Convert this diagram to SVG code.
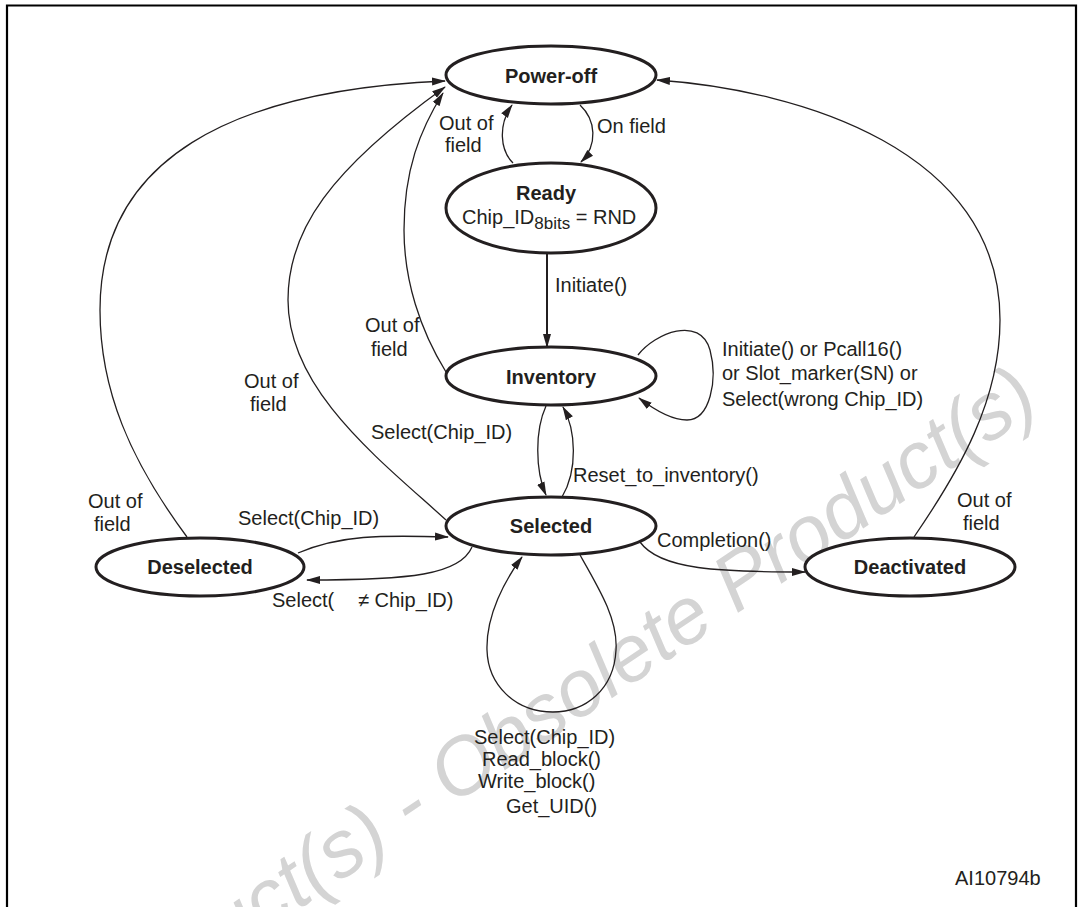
<svg xmlns="http://www.w3.org/2000/svg" width="1082" height="907" viewBox="0 0 1082 907">
<style>
.bg{fill:#ffffff}
.frame{fill:none;stroke:#000;stroke-width:2.2}
.node{fill:#ffffff;stroke:#231f20;stroke-width:3}
.edge{fill:none;stroke:#231f20;stroke-width:1.3}
.thick{stroke-width:2}
.t{font-family:"Liberation Sans",Arial,sans-serif;font-size:20px;fill:#231f20}
.b{font-family:"Liberation Sans",Arial,sans-serif;font-size:20px;font-weight:bold;fill:#231f20;text-anchor:middle}
.wm{font-family:"Liberation Sans",Arial,sans-serif;font-size:80px;font-style:italic;fill:#d4d4d4;text-anchor:end}
</style>
<defs>
<marker id="arr" markerWidth="14" markerHeight="10" refX="13" refY="5" orient="auto" markerUnits="userSpaceOnUse">
<path d="M0,1 L14,5 L0,9 Z" fill="#231f20"/>
</marker>
</defs>
<rect class="bg" x="0" y="0" width="1082" height="907"/>
<g id="watermark">
<text class="wm" transform="translate(1042,408) rotate(-34)">Product(s) - Obsolete Product(s)</text>
</g>
<path class="frame" d="M7,907 L7,5.5 L1076,5.5 L1076,907"/>
<g id="connectors">
<path class="edge" marker-end="url(#arr)" d="M187,537 C130,460 100,390 100,310 C100,160 230,90 445,81"/>
<path class="edge" marker-end="url(#arr)" d="M446,520 C380,460 288,390 288,300 C288,230 330,170 445,87"/>
<path class="edge" marker-end="url(#arr)" d="M446,372 C420,330 404,280 404,230 C404,170 420,130 443,93"/>
<path class="edge" marker-end="url(#arr)" d="M580,105 C596,120 598,145 581,162"/>
<path class="edge" marker-end="url(#arr)" d="M513,163 C500,150 498,125 512,105"/>
<path class="edge thick" marker-end="url(#arr)" d="M547,253 L547,347"/>
<path class="edge" marker-end="url(#arr)" d="M638,355 C655,333 700,315 710,350 C718,380 710,420 687,420 C670,420 652,408 639,398"/>
<path class="edge" marker-end="url(#arr)" d="M546,406 C535,430 535,470 546,495"/>
<path class="edge" marker-end="url(#arr)" d="M562,497 C578,470 576,430 563,407"/>
<path class="edge" marker-end="url(#arr)" d="M298,553 C340,535 380,535 448,537"/>
<path class="edge" marker-end="url(#arr)" d="M472,547 C460,575 410,580 307,580"/>
<path class="edge" marker-end="url(#arr)" d="M640,542 C660,570 720,572 805,572"/>
<path class="edge" marker-end="url(#arr)" d="M914,537 C960,470 1000,400 1000,320 C1000,150 800,90 657,80"/>
<path class="edge" marker-end="url(#arr)" d="M580,555 C600,590 618,620 616,650 C614,690 585,712 553,712 C515,712 488,685 487,650 C486,615 505,580 522,557"/>
</g>
<g id="node-poweroff">
<ellipse class="node" cx="551" cy="75" rx="105" ry="29"/>
<text class="b" x="551" y="83">Power-off</text>
</g>
<g id="node-ready">
<ellipse class="node" cx="551" cy="208" rx="105" ry="45"/>
<text class="b" x="546" y="200">Ready</text>
<text class="t" x="462" y="224">Chip_ID<tspan font-size="17" dy="5">8bits</tspan><tspan dy="-5"> = RND</tspan></text>
</g>
<g id="node-inventory">
<ellipse class="node" cx="551" cy="376" rx="105" ry="29"/>
<text class="b" x="551" y="384">Inventory</text>
</g>
<g id="node-selected">
<ellipse class="node" cx="551" cy="526" rx="105" ry="29"/>
<text class="b" x="551" y="533">Selected</text>
</g>
<g id="node-deselected">
<ellipse class="node" cx="200" cy="567" rx="104" ry="29"/>
<text class="b" x="200" y="574">Deselected</text>
</g>
<g id="node-deactivated">
<ellipse class="node" cx="910" cy="567" rx="105" ry="29"/>
<text class="b" x="910" y="574">Deactivated</text>
</g>
<g id="labels">
<text class="t" x="439" y="130">Out of</text>
<text class="t" x="445" y="152">field</text>
<text class="t" x="597" y="133">On field</text>
<text class="t" x="555" y="292">Initiate()</text>
<text class="t" x="365" y="332">Out of</text>
<text class="t" x="371" y="356">field</text>
<text class="t" x="244" y="388">Out of</text>
<text class="t" x="250" y="411">field</text>
<text class="t" x="88" y="508">Out of</text>
<text class="t" x="94" y="531">field</text>
<text class="t" x="722" y="356">Initiate() or Pcall16()</text>
<text class="t" x="722" y="380">or Slot_marker(SN) or</text>
<text class="t" x="722" y="406">Select(wrong Chip_ID)</text>
<text class="t" x="371" y="439">Select(Chip_ID)</text>
<text class="t" x="573" y="482">Reset_to_inventory()</text>
<text class="t" x="238" y="525">Select(Chip_ID)</text>
<text class="t" x="272" y="607">Select(</text>
<text class="t" x="358" y="607">≠ Chip_ID)</text>
<text class="t" x="657" y="547">Completion()</text>
<text class="t" x="957" y="507">Out of</text>
<text class="t" x="963" y="530">field</text>
<text class="t" x="474" y="744">Select(Chip_ID)</text>
<text class="t" x="482" y="766">Read_block()</text>
<text class="t" x="478" y="788">Write_block()</text>
<text class="t" x="506" y="813">Get_UID()</text>
<text class="t" x="955" y="885" font-size="19">AI10794b</text>
</g>
</svg>
